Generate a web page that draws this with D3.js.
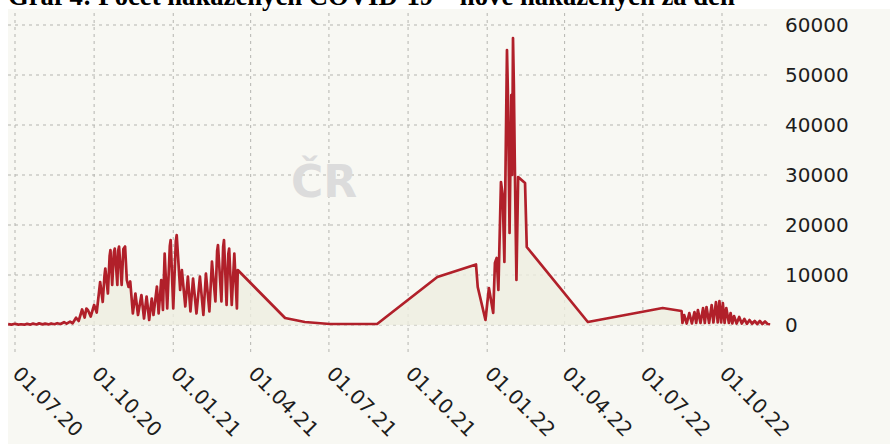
<!DOCTYPE html>
<html>
<head>
<meta charset="utf-8">
<script src="https://cdn.jsdelivr.net/npm/d3@7"></script>
<style>
    body { margin: 0; background: #fff; }
    #chart { width: 890px; height: 444px; }
    .grid line { stroke: #b5b5b0; stroke-width: 1; stroke-dasharray: 3,4; }
    .tick-label { font-family: "DejaVu Sans", Verdana, sans-serif; font-size: 20px; fill: #1d1d1d; }
</style>
</head>
<body>
<div id="chart"></div>
<script>
// daily new cases (date, count)
const summer2020 = [
    ["2020-06-23",160],["2020-06-27",70],["2020-07-01",240],["2020-07-05",80],["2020-07-08",150],
    ["2020-07-12",60],["2020-07-15",220],["2020-07-19",90],["2020-07-22",280],["2020-07-26",110],
    ["2020-07-29",330],["2020-08-02",130],["2020-08-05",270],["2020-08-09",120],["2020-08-12",310],
    ["2020-08-16",160],["2020-08-19",360],["2020-08-23",190],["2020-08-27",560],["2020-08-30",260],
    ["2020-09-03",680],["2020-09-06",350]
];
const autumn2020 = [
    ["2020-09-10",1450],["2020-09-13",800],["2020-09-17",3100],["2020-09-20",1500],["2020-09-22",3300],
    ["2020-09-24",2900],["2020-09-27",1700],["2020-10-01",4000],["2020-10-04",2500],["2020-10-08",8600],
    ["2020-10-11",4600],["2020-10-13",9800],["2020-10-14",11300],["2020-10-17",6300],["2020-10-19",13800],
    ["2020-10-20",15000],["2020-10-22",8000],["2020-10-24",14600],["2020-10-25",15300],["2020-10-28",8000],
    ["2020-10-29",14900],["2020-10-30",15700],["2020-11-02",8000],["2020-11-04",15200],["2020-11-06",15700],
    ["2020-11-08",9000],["2020-11-10",7600],["2020-11-12",8700],["2020-11-15",2300],["2020-11-18",6300],
    ["2020-11-21",2000],["2020-11-25",6000],["2020-11-28",1300],["2020-12-01",5700],["2020-12-04",1000],
    ["2020-12-07",5300],["2020-12-09",2000],["2020-12-13",7700],["2020-12-15",2300],["2020-12-18",9000],
    ["2020-12-20",3000]
];
const winter2021 = [
    ["2020-12-22",14300],["2020-12-25",3300],["2020-12-28",15800],["2020-12-29",17000],["2021-01-01",3300],
    ["2021-01-04",16800],["2021-01-05",18000],["2021-01-09",7000],["2021-01-11",11000],["2021-01-15",3700],
    ["2021-01-18",9700],["2021-01-21",2700],["2021-01-24",9300],["2021-01-28",2300],["2021-02-01",9700],
    ["2021-02-05",2000],["2021-02-08",10300],["2021-02-12",2700],["2021-02-15",12700],["2021-02-19",4700],
    ["2021-02-21",14800],["2021-02-22",16000],["2021-02-26",4700],["2021-02-28",15600],["2021-03-01",17000],
    ["2021-03-04",4000],["2021-03-06",14200],["2021-03-07",15300],["2021-03-10",4000],["2021-03-13",14300],
    ["2021-03-16",3300],["2021-03-17",11000]
];
const sparse2021 = [
    ["2021-05-11",1400],["2021-06-03",600],["2021-07-02",200],["2021-08-26",200],["2021-11-04",9600],
    ["2021-12-19",12100]
];
const omicron2022 = [
    ["2021-12-21",7600],["2021-12-30",1000],["2022-01-03",7400],["2022-01-08",2400],["2022-01-10",12400],
    ["2022-01-12",13400],["2022-01-14",7000],["2022-01-17",28600],["2022-01-19",26000],["2022-01-21",12600],
    ["2022-01-24",55000],["2022-01-25",47000],["2022-01-26",33000],["2022-01-27",18400],["2022-01-29",46000],
    ["2022-01-30",30000],["2022-01-31",57400],["2022-02-01",48000],["2022-02-02",33600],["2022-02-04",9000],
    ["2022-02-06",29600],["2022-02-14",28400],["2022-02-16",15600],["2022-04-28",600],["2022-07-24",3400],
    ["2022-08-15",2800]
];
const autumn2022 = [
    ["2022-08-16",400],["2022-08-18",2000],["2022-08-21",300],["2022-08-24",2400],["2022-08-27",300],
    ["2022-08-30",2600],["2022-09-01",400],["2022-09-03",3000],["2022-09-06",400],["2022-09-09",3400],
    ["2022-09-11",400],["2022-09-13",3600],["2022-09-16",400],["2022-09-19",4000],["2022-09-21",500],
    ["2022-09-24",4600],["2022-09-26",500],["2022-09-28",4800],["2022-09-30",500],["2022-10-02",4400],
    ["2022-10-04",400],["2022-10-06",3400],["2022-10-09",400],["2022-10-11",2400],["2022-10-13",300],
    ["2022-10-15",1800],["2022-10-18",300],["2022-10-21",1600],["2022-10-24",300],["2022-10-27",1200],
    ["2022-10-30",250],["2022-11-02",1000],["2022-11-05",250],["2022-11-08",800],["2022-11-11",200],
    ["2022-11-14",800],["2022-11-17",200],["2022-11-20",700],["2022-11-23",200],["2022-11-26",150]
];

const xTicks = ["2020-07-01","2020-10-01","2021-01-01","2021-04-01","2021-07-01",
                "2021-10-01","2022-01-01","2022-04-01","2022-07-01","2022-10-01"];
const yTicks = [0, 10000, 20000, 30000, 40000, 50000, 60000];
const chartTitle = "Graf 4: Počet nakažených COVID-19 – nové nakažených za den";
const watermark = "ČR";

const parse = d3.utcParse("%Y-%m-%d");

class CasesChart {

    constructor(svg_id){
        this.svg = d3.select(svg_id).append("svg").attr("width", 890).attr("height", 444);
        this.margin = {top: 9, left: 8, right: 123, bottom: 89};
        this.width = 890;
        this.height = 444;
    }

    loadData(parts){
        this.data = [];
        for (const part of parts){
            for (const p of part){
                this.data.push({date: parse(p[0]), value: p[1]});
            }
        }
    }

    draw(){
        this.svg.append("rect")
            .attr("x", this.margin.left)
            .attr("y", this.margin.top)
            .attr("width", this.width - this.margin.left)
            .attr("height", this.height - this.margin.top)
            .attr("fill", "#f8f8f3");

        this.build_axis();
        this.draw_watermark();
        this.draw_series();
        this.draw_title();
    }

    build_axis(){
        // ticks fall on the quarter starts, y from 0 to 60000
        this.xScale = d3.scaleUtc()
            .domain([parse(xTicks[0]), parse(xTicks[xTicks.length - 1])])
            .range([15, 722]);
        this.yScale = d3.scaleLinear()
            .domain([0, 60000])
            .range([325, 25]);

        const gridRight = this.width - this.margin.right;
        const grid = this.svg.append("g").attr("class", "grid");

        grid.selectAll("line.h")
            .data(yTicks)
            .enter().append("line")
            .attr("class", "h")
            .attr("x1", this.margin.left)
            .attr("x2", gridRight)
            .attr("y1", d => this.yScale(d))
            .attr("y2", d => this.yScale(d));

        grid.selectAll("line.v")
            .data(xTicks)
            .enter().append("line")
            .attr("class", "v")
            .attr("x1", d => this.xScale(parse(d)))
            .attr("x2", d => this.xScale(parse(d)))
            .attr("y1", 13)
            .attr("y2", this.height - this.margin.bottom);

        // y labels on the right
        this.svg.append("g").selectAll("text")
            .data(yTicks)
            .enter().append("text")
            .attr("class", "tick-label")
            .attr("x", gridRight + 18)
            .attr("y", d => this.yScale(d))
            .attr("dy", "0.36em")
            .text(d => d);

        // x labels rotated 45deg
        const fmt = d3.utcFormat("%d.%m.%y");
        this.svg.append("g").selectAll("text")
            .data(xTicks)
            .enter().append("text")
            .attr("class", "tick-label")
            .attr("transform", d => `translate(${this.xScale(parse(d)) - 3.5},375) rotate(45)`)
            .text(d => fmt(parse(d)));
    }

    draw_watermark(){
        this.svg.append("text")
            .attr("x", 291)
            .attr("y", 197)
            .style("font-family", "'DejaVu Sans', Verdana, sans-serif")
            .style("font-weight", "bold")
            .style("font-size", "44px")
            .attr("fill", "#dcdcdc")
            .text(watermark);
    }

    draw_series(){
        const area = d3.area()
            .x(d => this.xScale(d.date))
            .y0(this.yScale(0))
            .y1(d => this.yScale(d.value));
        const line = d3.line()
            .x(d => this.xScale(d.date))
            .y(d => this.yScale(d.value));

        this.svg.append("path")
            .datum(this.data)
            .attr("d", area)
            .attr("fill", "#eeeee0")
            .attr("fill-opacity", 0.8);

        this.svg.append("path")
            .datum(this.data)
            .attr("d", line)
            .attr("fill", "none")
            .attr("stroke", "#b1202a")
            .attr("stroke-width", 2.7)
            .attr("stroke-linejoin", "round");
    }

    draw_title(){
        // the title sits mostly above the top edge, as in the picture
        const t = this.svg.append("text")
            .attr("x", 8)
            .attr("y", 5)
            .style("font-family", "'Liberation Serif', 'Times New Roman', serif")
            .style("font-weight", "bold")
            .style("font-size", "24px")
            .attr("fill", "#000")
            .text(chartTitle);
        const len = t.node().getComputedTextLength();
        t.style("font-size", (24 * 727 / len) + "px");
    }
}

const chart = new CasesChart("#chart");
chart.loadData([summer2020, autumn2020, winter2021, sparse2021, omicron2022, autumn2022]);
chart.draw();
</script>
</body>
</html>
